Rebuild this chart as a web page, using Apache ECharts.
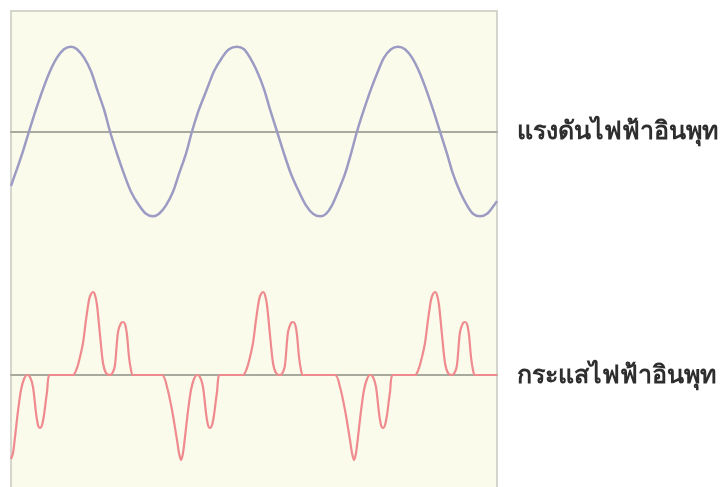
<!DOCTYPE html>
<html>
<head>
<meta charset="utf-8">
<script src="https://cdn.jsdelivr.net/npm/echarts@6/dist/echarts.min.js"></script>
<style>
html,body{margin:0;padding:0;background:#ffffff;}
#chart{width:725px;height:487px;}
</style>
</head>
<body>
<div id="chart"></div>
<script>
// Labels
var voltageLabel = 'แรงดันไฟฟ้าอินพุท';
var currentLabel = 'กระแสไฟฟ้าอินพุท';

// Input voltage: time and value
var voltageT = [0, 6, 12, 18, 25, 32, 39, 46, 53, 60, 66, 73, 80, 86, 93, 99,
  106, 113, 120, 128, 135, 142, 148, 155, 162, 168, 175, 181,
  188, 196, 203, 211, 218, 226, 233, 239, 246, 253, 259, 266,
  273, 280, 288, 295, 302, 309, 315, 321, 327, 334, 340, 346,
  353, 360, 367, 373, 380, 387, 394, 401, 408, 415, 422, 429,
  436, 442, 449, 456, 462, 469, 476, 483, 486];
var voltageV = [-0.64, -0.44, -0.23, 0, 0.26, 0.5, 0.71, 0.87, 0.97, 1, 0.97, 0.87, 0.71, 0.5, 0.26, 0,
  -0.26, -0.5, -0.71, -0.87, -0.97, -1, -0.97, -0.87, -0.71, -0.5, -0.26, 0,
  0.26, 0.5, 0.71, 0.87, 0.97, 1, 0.97, 0.87, 0.71, 0.5, 0.26, 0,
  -0.26, -0.5, -0.71, -0.87, -0.97, -1, -0.97, -0.87, -0.71, -0.5, -0.26, 0,
  0.26, 0.5, 0.71, 0.87, 0.97, 1, 0.97, 0.87, 0.71, 0.5, 0.26, 0,
  -0.26, -0.5, -0.71, -0.87, -0.97, -1, -0.97, -0.87, -0.82];

// Input current: time and value
var currentT = [
  0, 2, 4, 7, 10, 13, 16, 19, 22, 25, 27, 29, 31, 33, 36, 39, 50,
  62, 66, 69, 72, 75, 78, 80, 82, 84, 86, 89, 92, 95, 99, 102, 104, 107, 110, 112, 114, 116, 118, 120, 122, 136,
  151, 156, 161, 166, 168, 170, 172, 174, 177, 180, 183, 186, 189, 192, 195, 197, 199, 201, 203, 206, 209, 220,
  232, 236, 239, 242, 245, 248, 250, 252, 254, 256, 259, 262, 265, 269, 272, 274, 277, 280, 282, 284, 286, 288, 290, 292, 308,
  324, 329, 334, 339, 341, 343, 345, 347, 350, 353, 356, 359, 362, 365, 368, 370, 372, 374, 376, 379, 382, 393,
  404, 408, 411, 414, 417, 420, 422, 424, 426, 428, 431, 434, 437, 441, 444, 446, 449, 452, 454, 456, 458, 460, 462, 464, 476, 486];
var currentV = [
  -0.84, -0.78, -0.62, -0.36, -0.15, -0.04, 0, -0.02, -0.12, -0.38, -0.5, -0.53, -0.5, -0.4, -0.17, 0, 0,
  0, 0.07, 0.18, 0.32, 0.55, 0.75, 0.81, 0.83, 0.8, 0.7, 0.4, 0.12, 0.02, 0, 0.03, 0.1, 0.43, 0.52, 0.53, 0.51, 0.4, 0.18, 0.05, 0, 0,
  0, -0.12, -0.35, -0.65, -0.78, -0.85, -0.78, -0.62, -0.36, -0.15, -0.04, 0, -0.02, -0.12, -0.38, -0.5, -0.53, -0.5, -0.4, -0.17, 0, 0,
  0, 0.07, 0.18, 0.32, 0.55, 0.75, 0.81, 0.83, 0.8, 0.7, 0.4, 0.12, 0.02, 0, 0.03, 0.1, 0.43, 0.52, 0.53, 0.51, 0.4, 0.18, 0.05, 0, 0,
  0, -0.12, -0.35, -0.65, -0.78, -0.85, -0.78, -0.62, -0.36, -0.15, -0.04, 0, -0.02, -0.12, -0.38, -0.5, -0.53, -0.5, -0.4, -0.17, 0, 0,
  0, 0.07, 0.18, 0.32, 0.55, 0.75, 0.81, 0.83, 0.8, 0.7, 0.4, 0.12, 0.02, 0, 0.03, 0.1, 0.43, 0.52, 0.53, 0.51, 0.4, 0.18, 0.05, 0, 0, 0];

function pairs(t, v) { return t.map(function (x, i) { return [x, v[i]]; }); }

var chart = echarts.init(document.getElementById('chart'), null, {renderer: 'canvas'});

var baseAxis = {
  type: 'value', min: 0, max: 486,
  axisLine: {show: true, onZero: true, lineStyle: {color: '#a9a99d', width: 2}},
  axisTick: {show: false}, axisLabel: {show: false}, splitLine: {show: false}
};
var labelFont = 'bold 25px Tahoma, "Noto Sans", "DejaVu Sans", sans-serif';

chart.setOption({
  animation: false,
  grid: [
    {left: 11, width: 486, top: 11, height: 241},
    {left: 11, width: 486, top: 260, height: 227}
  ],
  xAxis: [
    Object.assign({gridIndex: 0}, baseAxis),
    Object.assign({gridIndex: 1}, baseAxis)
  ],
  yAxis: [
    {gridIndex: 0, type: 'value', min: -1.42, max: 1.42, show: false},
    {gridIndex: 1, type: 'value', min: -1.12, max: 1.15, show: false}
  ],
  graphic: {
    elements: [
      {type: 'rect', z: -100, silent: true,
       shape: {x: 11, y: 11, width: 486, height: 490},
       style: {fill: '#fafbeb', stroke: '#c8c8c0', lineWidth: 1.5}},
      {type: 'text', z: 100, x: 517, y: 132,
       style: {text: voltageLabel, fill: '#2e2e2e', font: labelFont, textVerticalAlign: 'middle'}},
      {type: 'text', z: 100, x: 517, y: 376,
       style: {text: currentLabel, fill: '#2e2e2e', font: labelFont, textVerticalAlign: 'middle'}}
    ]
  },
  series: [
    {type: 'line', xAxisIndex: 0, yAxisIndex: 0, data: pairs(voltageT, voltageV),
     smooth: 0.3, showSymbol: false, lineStyle: {color: '#9c9bc4', width: 2.5}},
    {type: 'line', xAxisIndex: 1, yAxisIndex: 1, data: pairs(currentT, currentV),
     smooth: 0.3, showSymbol: false, lineStyle: {color: '#ef8a8e', width: 2.2}}
  ]
});
</script>
</body>
</html>
